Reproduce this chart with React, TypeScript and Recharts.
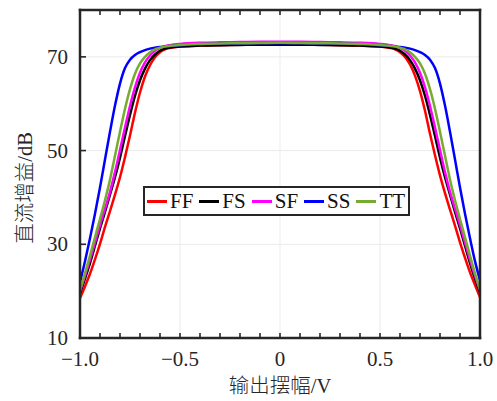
import React from "react";
import { LineChart, Line, XAxis, YAxis, ReferenceLine, Legend } from "recharts";

// output swing (V)
const swing = [
  -1, -0.975, -0.95, -0.925, -0.9, -0.875, -0.85, -0.825, -0.8, -0.775, -0.75, -0.725, -0.7,
  -0.675, -0.65, -0.625, -0.6, -0.575, -0.55, -0.5, -0.4, -0.3, -0.2, -0.1, 0,
  0.1, 0.2, 0.3, 0.4, 0.5, 0.55, 0.575, 0.6, 0.625, 0.65, 0.675, 0.7, 0.725, 0.75,
  0.775, 0.8, 0.825, 0.85, 0.875, 0.9, 0.925, 0.95, 0.975, 1,
];

// DC gain (dB) per process corner
const ff = [
  18.5, 21.0, 23.7, 26.8, 30.1, 33.7, 37.1, 40.6, 44.3, 48.6, 53.2, 58.1, 62.4,
  65.8, 68.2, 69.9, 71.0, 71.6, 71.9, 72.2, 72.4, 72.5, 72.6, 72.65, 72.7,
  72.65, 72.6, 72.5, 72.4, 72.2, 71.9, 71.6, 71.0, 70.0, 68.4, 66.0, 62.7, 58.5, 53.6,
  49.0, 44.7, 40.9, 37.4, 34.0, 30.4, 27.1, 24.0, 21.3, 18.7,
];
const fs = [
  19.6, 22.7, 26.0, 29.7, 33.4, 36.9, 40.6, 44.3, 48.5, 53.1, 57.6, 61.7, 65.0,
  67.5, 69.3, 70.5, 71.3, 71.75, 72.0, 72.2, 72.4, 72.5, 72.55, 72.6, 72.6,
  72.6, 72.55, 72.5, 72.4, 72.2, 72.0, 71.75, 71.3, 70.5, 69.3, 67.5, 65.0, 61.7, 57.6,
  53.1, 48.5, 44.3, 40.6, 36.9, 33.4, 29.7, 26.0, 22.7, 19.8,
];
const sf = [
  20.0, 23.3, 26.7, 30.4, 34.1, 37.6, 41.2, 45.4, 50.1, 54.9, 59.5, 63.5, 66.6,
  68.8, 70.3, 71.3, 71.9, 72.3, 72.5, 72.75, 73.0, 73.1, 73.15, 73.2, 73.2,
  73.2, 73.15, 73.1, 73.0, 72.75, 72.5, 72.3, 71.9, 71.3, 70.3, 68.8, 66.6, 63.5, 59.5,
  54.9, 50.1, 45.4, 41.2, 37.6, 34.1, 30.4, 26.7, 23.3, 20.2,
];
const ss = [
  21.9, 26.4, 31.3, 36.5, 42.1, 48.1, 54.0, 59.6, 64.3, 67.6, 69.4, 70.4, 71.0,
  71.45, 71.75, 71.95, 72.1, 72.2, 72.3, 72.5, 72.7, 72.8, 72.85, 72.9, 72.9,
  72.9, 72.85, 72.8, 72.7, 72.5, 72.3, 72.2, 72.1, 71.95, 71.75, 71.45, 71.0, 70.4, 69.4,
  67.6, 64.3, 59.6, 54.0, 48.1, 42.1, 36.5, 31.3, 26.4, 22.3,
];
const tt = [
  20.2, 23.8, 27.6, 31.5, 35.4, 39.4, 43.8, 48.9, 54.0, 58.9, 63.1, 66.4, 68.6,
  70.0, 71.0, 71.6, 71.95, 72.2, 72.35, 72.55, 72.75, 72.85, 72.9, 72.95, 73.0,
  72.95, 72.9, 72.85, 72.75, 72.55, 72.35, 72.2, 71.95, 71.6, 71.0, 70.0, 68.6, 66.4, 63.1,
  58.9, 54.0, 48.9, 43.8, 39.4, 35.4, 31.5, 27.6, 23.8, 20.4,
];

const xTicks = [
  -1, -0.9, -0.8, -0.7, -0.6, -0.5, -0.4, -0.3, -0.2, -0.1, 0,
  0.1, 0.2, 0.3, 0.4, 0.5, 0.6, 0.7, 0.8, 0.9, 1,
];
const xMajor = [-1, -0.5, 0, 0.5, 1];
const xMajorLabels = ["\u22121.0", "\u22120.5", "0", "0.5", "1.0"];
const yTicks = [10, 30, 50, 70];
const gridX = [-0.5, 0, 0.5];
const gridY = [30, 50, 70];

const series = [
  { key: "FF", color: "#FF0000", values: ff },
  { key: "FS", color: "#000000", values: fs },
  { key: "SF", color: "#FF00FF", values: sf },
  { key: "SS", color: "#0000FF", values: ss },
  { key: "TT", color: "#77AC30", values: tt },
];

const data = swing.map((x, i) => {
  const row: Record<string, number> = { x };
  series.forEach((s) => (row[s.key] = s.values[i]));
  return row;
});

const FONT = "'Liberation Serif', 'Times New Roman', 'Noto Sans CJK SC', serif";
const INK = "#262626";
const frame = { stroke: INK, strokeWidth: 2.5, strokeLinecap: "square" as const };

function majorIndex(v: number) {
  return xMajor.findIndex((m) => Math.abs(m - v) < 1e-6);
}

function BottomTick({ x, y, payload }: any) {
  const i = majorIndex(payload.value);
  return (
    <g>
      <line x1={x} x2={x} y1={y} y2={y - 5} stroke={INK} strokeWidth={1.6} />
      {i >= 0 && (
        <text x={x} y={y + 28} textAnchor="middle" fontSize={21} fontFamily={FONT} fill={INK}>
          {xMajorLabels[i]}
        </text>
      )}
    </g>
  );
}

function TopTick({ x, y }: any) {
  return <line x1={x} x2={x} y1={y} y2={y + 5} stroke={INK} strokeWidth={1.6} />;
}

function LeftTick({ x, y, payload }: any) {
  return (
    <g>
      <line x1={x} x2={x + 6} y1={y} y2={y} stroke={INK} strokeWidth={1.6} />
      <text x={x - 12} y={y} dy="0.34em" textAnchor="end" fontSize={21} fontFamily={FONT} fill={INK}>
        {payload.value}
      </text>
    </g>
  );
}

function RightTick({ x, y }: any) {
  return <line x1={x - 6} x2={x} y1={y} y2={y} stroke={INK} strokeWidth={1.6} />;
}

function LegendBox() {
  return (
    <div
      style={{
        display: "flex",
        alignItems: "center",
        border: `2.5px solid ${INK}`,
        background: "#fff",
        padding: "2px 3px 2px 2px",
        fontFamily: FONT,
        fontSize: 21,
        lineHeight: "22px",
        color: "#111",
      }}
    >
      {series.map((s, i) => (
        <div key={s.key} style={{ display: "flex", alignItems: "center", marginLeft: i ? 6 : 0 }}>
          <span style={{ width: 20, height: 3, background: s.color, marginRight: 3 }} />
          <span>{s.key}</span>
        </div>
      ))}
    </div>
  );
}

export default function App() {
  return (
    <div style={{ position: "absolute", left: 0, top: 0, width: 497, height: 401, background: "#fff" }}>
      <LineChart width={497} height={401} data={data} margin={{ top: 9, right: 16, bottom: 5, left: 0 }}>
        {gridX.map((v) => (
          <ReferenceLine key={`gx${v}`} x={v} stroke="#ebebeb" strokeWidth={1} />
        ))}
        {gridY.map((v) => (
          <ReferenceLine key={`gy${v}`} y={v} stroke="#ebebeb" strokeWidth={1} />
        ))}
        <XAxis
          dataKey="x"
          type="number"
          domain={[-1, 1]}
          ticks={xTicks}
          interval={0}
          height={58}
          tickSize={0}
          tickMargin={0}
          tickLine={false}
          axisLine={frame}
          tick={<BottomTick />}
          label={{
            content: ({ viewBox }: any) => (
              <text
                x={viewBox.x + viewBox.width / 2}
                y={viewBox.y + 48}
                dy="0.35em"
                textAnchor="middle"
                fontSize={20.5}
                fontWeight={300}
                fontFamily={FONT}
                fill={INK}
              >
                输出摆幅/V
              </text>
            ),
          }}
        />
        <XAxis
          xAxisId="top"
          orientation="top"
          dataKey="x"
          type="number"
          domain={[-1, 1]}
          ticks={xTicks}
          interval={0}
          height={1}
          tickSize={0}
          tickMargin={0}
          tickLine={false}
          axisLine={frame}
          tick={<TopTick />}
        />
        <YAxis
          type="number"
          domain={[10, 80]}
          ticks={yTicks}
          interval={0}
          width={80}
          tickSize={0}
          tickMargin={0}
          tickLine={false}
          axisLine={frame}
          tick={<LeftTick />}
          label={{
            content: ({ viewBox }: any) => {
              const cx = 25;
              const cy = viewBox.y + viewBox.height / 2 + 14;
              return (
                <text
                  x={cx}
                  y={cy}
                  dy="0.35em"
                  textAnchor="middle"
                  fontSize={20.5}
                  fontWeight={300}
                  fontFamily={FONT}
                  fill={INK}
                  transform={`rotate(-90 ${cx} ${cy})`}
                >
                  直流增益/dB
                </text>
              );
            },
          }}
        />
        <YAxis
          yAxisId="right"
          orientation="right"
          type="number"
          domain={[10, 80]}
          ticks={yTicks}
          interval={0}
          width={1}
          tickSize={0}
          tickMargin={0}
          tickLine={false}
          axisLine={frame}
          tick={<RightTick />}
        />
        {series.map((s) => (
          <Line
            key={s.key}
            type="monotone"
            dataKey={s.key}
            stroke={s.color}
            strokeWidth={2.5}
            dot={false}
            activeDot={false}
            isAnimationActive={false}
          />
        ))}
        <Legend
          layout="horizontal"
          verticalAlign="middle"
          align="center"
          wrapperStyle={{ left: 143, top: 186, width: "auto" }}
          content={() => <LegendBox />}
        />
      </LineChart>
    </div>
  );
}
